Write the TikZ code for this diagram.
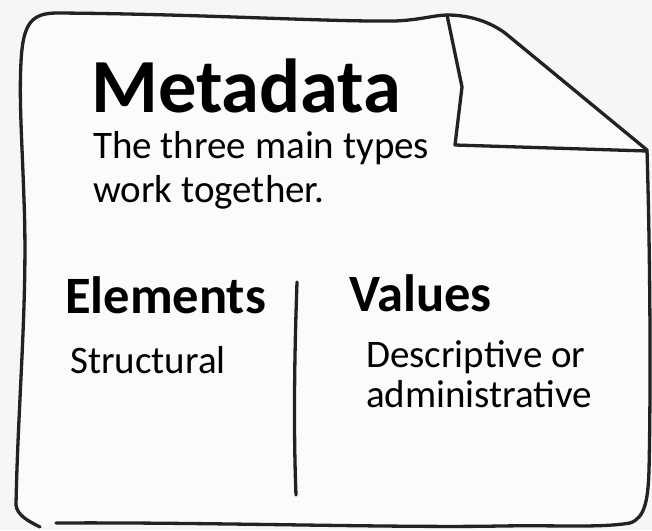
\documentclass[tikz,border=0pt]{standalone}
\usepackage{fontspec}
\setmainfont{Carlito}
\definecolor{ink}{RGB}{34,34,34}
\definecolor{bgc}{RGB}{246,246,246}
\definecolor{pagec}{RGB}{251,251,251}
\begin{document}
\begin{tikzpicture}[x=1pt,y=-1pt,line join=round,line cap=round,
  outline/.style={draw=ink,line width=3.3pt},
  txt/.style={anchor=base west,inner sep=0pt,text=black},
  bigtitle/.style={txt,font=\fontsize{76.5}{80}\selectfont\bfseries},
  heading/.style={txt,font=\fontsize{52.5}{56}\selectfont\bfseries},
  body/.style={txt,font=\fontsize{39}{44}\selectfont}]
\fill[bgc] (0,0) rectangle (652,530);
\useasboundingbox (0,0) rectangle (652,530);
% page fill
\fill[pagec] (40,527) .. controls (28,521) and (17,515) .. (16,505)
  .. controls (18,400) and (28,300) .. (24,200)
  .. controls (22,140) and (19,100) .. (21,62)
  .. controls (23,22) and (32,13) .. (58,13)
  .. controls (200,14) and (330,22) .. (395,21)
  .. controls (420,20) and (435,15) .. (447,15)
  .. controls (470,15) and (490,22) .. (505,33)
  -- (647,150)
  .. controls (650,250) and (651,380) .. (649,470)
  .. controls (648,500) and (645,518) .. (630,523)
  .. controls (600,528) and (560,525) .. (500,526)
  .. controls (400,528) and (200,522) .. (56,523) -- cycle;
% outline
\draw[outline] (40,527) .. controls (28,521) and (17,515) .. (16,505)
  .. controls (18,400) and (28,300) .. (24,200)
  .. controls (22,140) and (19,100) .. (21,62)
  .. controls (23,22) and (32,13) .. (58,13)
  .. controls (200,14) and (330,22) .. (395,21)
  .. controls (420,20) and (435,15) .. (447,15)
  .. controls (470,15) and (490,22) .. (505,33)
  -- (647,150)
  .. controls (650,250) and (651,380) .. (649,470)
  .. controls (648,500) and (645,518) .. (630,523)
  .. controls (600,528) and (560,525) .. (500,526)
  .. controls (400,528) and (200,522) .. (56,523);
% folded corner
\draw[outline] (447,15) -- (462,87) -- (455,145) -- (647,151);
% divider
\coordinate (dtop) at (297,282);
\coordinate (dbot) at (296,495);
\draw[outline] (dtop) .. controls (295,340) and (293,420) .. (dbot);
% texts
\node[bigtitle] (title) at (91,112) {Metadata};
\node[body] (sub1) at (93,158) {The three main types};
\node[body] (sub2) at (93,202) {work together.};
\node[heading] (elem) at (65,313) {Elements};
\node[body] (struct) at (70,373) {Structural};
\node[heading] (vals) at (349,311) {Values};
\node[body] (desc1) at (366,367) {Descriptive or};
\node[body] (desc2) at (366,407) {administrative};
\end{tikzpicture}
\end{document}
